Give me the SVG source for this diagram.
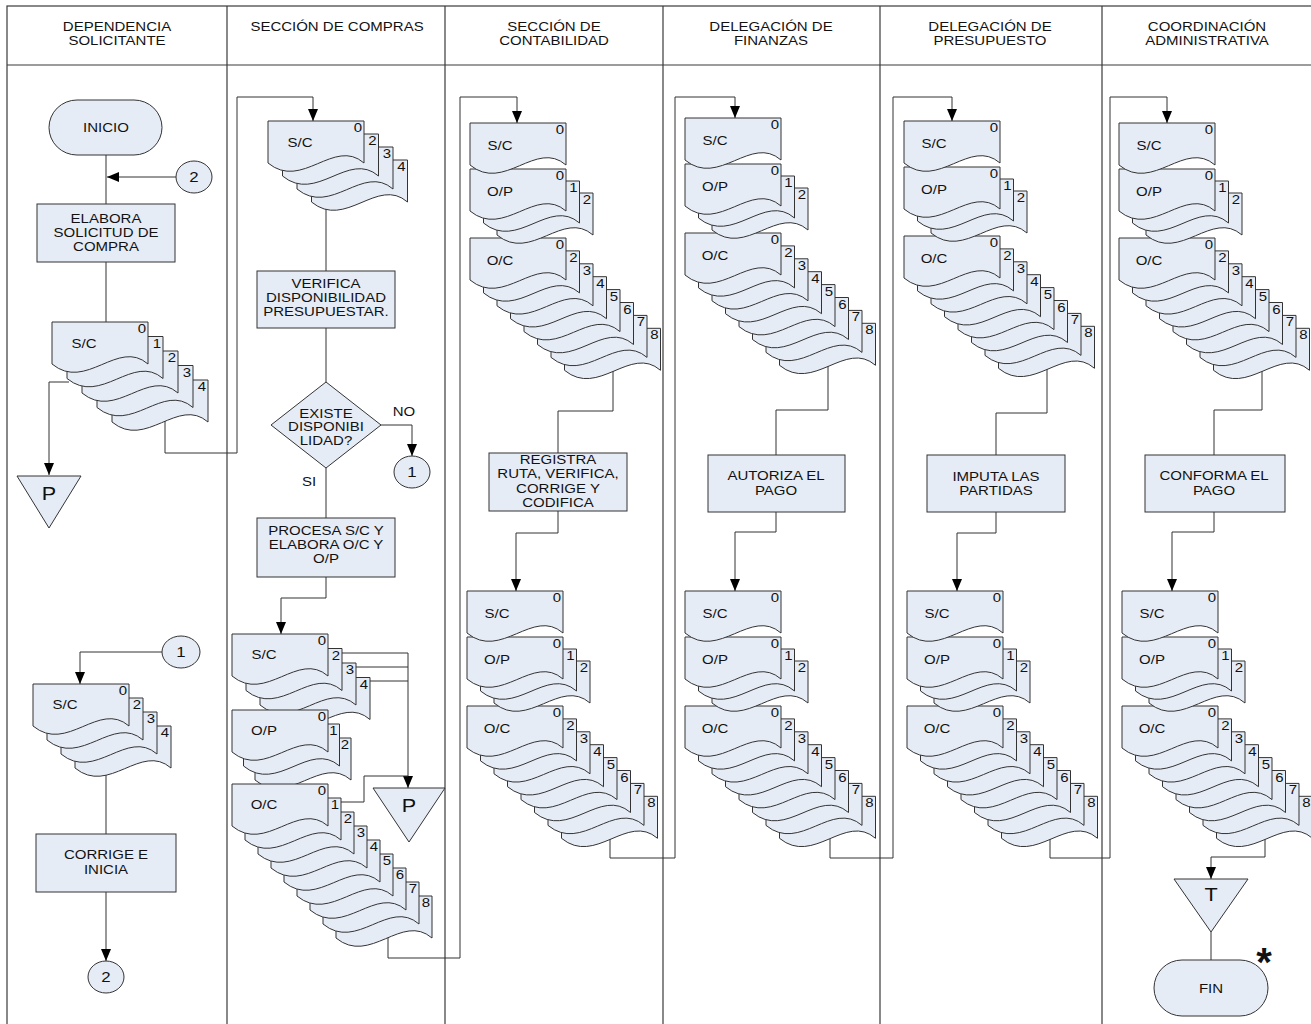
<svg xmlns="http://www.w3.org/2000/svg" width="1311" height="1024" viewBox="0 0 1311 1024">
<style>
.frame{fill:none;stroke:#3a3a3a;stroke-width:1.2}
.shape{fill:#e6ecf6;stroke:#333;stroke-width:1}
.ln{fill:none;stroke:#333;stroke-width:1}
.arr{marker-end:url(#ah)}
text{font-family:"Liberation Sans",Arial,sans-serif;font-size:12.5px;fill:#111}
.c{text-anchor:middle}
.n{text-anchor:end}
.big{font-size:18px}
.cn{font-size:14px;text-anchor:middle}
</style>
<defs>
<marker id="ah" viewBox="0 0 12 10" refX="12" refY="5" markerWidth="12" markerHeight="10" markerUnits="userSpaceOnUse" orient="auto">
<path d="M0,0L12,5L0,10Z" fill="#000"/>
</marker>
<path id="doc" class="shape" d="M0,0H96V42C66,16 34,70 0,42Z"/>
<!-- document set: S/C, O/P (3 copies), O/C (8 copies) -->
<g id="set">
<use href="#doc" x="94.5" y="205.3"/>
<use href="#doc" x="81" y="192.4"/>
<use href="#doc" x="67.5" y="179.5"/>
<use href="#doc" x="54" y="166.6"/>
<use href="#doc" x="40.5" y="153.7"/>
<use href="#doc" x="27" y="140.8"/>
<use href="#doc" x="13.5" y="127.9"/>
<use href="#doc" x="0" y="115"/>
<text class="n" transform="translate(94 126) scale(1.2 1)">0</text>
<text class="n" transform="translate(107.5 138.9) scale(1.2 1)">2</text>
<text class="n" transform="translate(121 151.8) scale(1.2 1)">3</text>
<text class="n" transform="translate(134.5 164.7) scale(1.2 1)">4</text>
<text class="n" transform="translate(148 177.6) scale(1.2 1)">5</text>
<text class="n" transform="translate(161.5 190.5) scale(1.2 1)">6</text>
<text class="n" transform="translate(175 203.4) scale(1.2 1)">7</text>
<text class="n" transform="translate(188.5 216.3) scale(1.2 1)">8</text>
<text class="c" transform="translate(30 142) scale(1.2 1)">O/C</text>
<use href="#doc" x="27" y="70"/>
<use href="#doc" x="13.5" y="58"/>
<use href="#doc" x="0" y="46"/>
<text class="n" transform="translate(94 57) scale(1.2 1)">0</text>
<text class="n" transform="translate(107.5 69) scale(1.2 1)">1</text>
<text class="n" transform="translate(121 81) scale(1.2 1)">2</text>
<text class="c" transform="translate(30 73) scale(1.2 1)">O/P</text>
<use href="#doc" x="0" y="0"/>
<text class="n" transform="translate(94 11) scale(1.2 1)">0</text>
<text class="c" transform="translate(30 27) scale(1.2 1)">S/C</text>
</g>
</defs>

<rect width="1311" height="1024" fill="#fff"/>

<g id="lanes">
<rect class="frame" x="7" y="6" width="1310" height="1024"/>
<line class="frame" x1="7" y1="65" x2="1311" y2="65"/>
<line class="frame" x1="227" y1="6" x2="227" y2="1024"/>
<line class="frame" x1="445" y1="6" x2="445" y2="1024"/>
<line class="frame" x1="663" y1="6" x2="663" y2="1024"/>
<line class="frame" x1="880" y1="6" x2="880" y2="1024"/>
<line class="frame" x1="1102" y1="6" x2="1102" y2="1024"/>
<text class="c" transform="translate(117 31) scale(1.2 1)"><tspan x="0">DEPENDENCIA</tspan><tspan x="0" dy="14">SOLICITANTE</tspan></text>
<text class="c" transform="translate(337 31) scale(1.2 1)">SECCIÓN DE COMPRAS</text>
<text class="c" transform="translate(554 31) scale(1.2 1)"><tspan x="0">SECCIÓN DE</tspan><tspan x="0" dy="14">CONTABILIDAD</tspan></text>
<text class="c" transform="translate(771 31) scale(1.2 1)"><tspan x="0">DELEGACIÓN DE</tspan><tspan x="0" dy="14">FINANZAS</tspan></text>
<text class="c" transform="translate(990 31) scale(1.2 1)"><tspan x="0">DELEGACIÓN DE</tspan><tspan x="0" dy="14">PRESUPUESTO</tspan></text>
<text class="c" transform="translate(1207 31) scale(1.2 1)"><tspan x="0">COORDINACIÓN</tspan><tspan x="0" dy="14">ADMINISTRATIVA</tspan></text>
</g>

<g id="connectors" class="ln">
<path d="M106,155V204"/>
<path class="arr" d="M176,177H107"/>
<path d="M106,262V322"/>
<path class="arr" d="M69,382H49V475"/>
<path class="arr" d="M165,421V453H237V97H313V121"/>
<path d="M326,205V271"/>
<path d="M326,328V382"/>
<path class="arr" d="M381,425H412V456"/>
<path d="M326,468V518"/>
<path class="arr" d="M326,577V598H281V634"/>
<path d="M342,653H408M356,667H408M370,681H408"/>
<path class="arr" d="M408,653V788"/>
<path d="M341,802H364V776H408"/>
<path class="arr" d="M388,937V958H460V97H517V123"/>
<path d="M613,371V411H558V453"/>
<path class="arr" d="M558,511V533H516V591"/>
<path class="arr" d="M610,839V858H675V97H735V118"/>
<path d="M828,366V410H776V455"/>
<path class="arr" d="M776,512V532H735V591"/>
<path class="arr" d="M830,839V858H893V97H952V121"/>
<path d="M1047,369V413H996V455"/>
<path class="arr" d="M996,512V533H957V591"/>
<path class="arr" d="M1050,839V858H1110V97H1167V123"/>
<path d="M1262,371V410H1214V455"/>
<path class="arr" d="M1214,512V532H1172V591"/>
<path class="arr" d="M1265,839V857H1211V879"/>
<path d="M1211,932V960"/>
<path class="arr" d="M162,652H80V684"/>
<path d="M106,773V834"/>
<path class="arr" d="M106,892V961"/>
</g>

<!-- Dependencia solicitante -->
<g id="inicio">
<rect class="shape" x="49" y="100" width="113" height="55" rx="28" ry="27.5"/>
<text class="c" transform="translate(106 132) scale(1.2 1)">INICIO</text>
</g>
<g id="con2-in">
<ellipse class="shape" cx="194" cy="177" rx="18" ry="16"/>
<text class="cn" transform="translate(194 182) scale(1.2 1)">2</text>
</g>
<g id="elabora">
<rect class="shape" x="37" y="204" width="138" height="58"/>
<text class="c" transform="translate(106 223) scale(1.2 1)"><tspan x="0">ELABORA</tspan><tspan x="0" dy="14">SOLICITUD DE</tspan><tspan x="0" dy="14">COMPRA</tspan></text>
</g>
<g id="sc-dep">
<use href="#doc" x="112" y="380"/>
<use href="#doc" x="97" y="365.5"/>
<use href="#doc" x="82" y="351"/>
<use href="#doc" x="67" y="336.5"/>
<use href="#doc" x="52" y="322"/>
<text class="n" transform="translate(146 333) scale(1.2 1)">0</text>
<text class="n" transform="translate(161 347.5) scale(1.2 1)">1</text>
<text class="n" transform="translate(176 362) scale(1.2 1)">2</text>
<text class="n" transform="translate(191 376.5) scale(1.2 1)">3</text>
<text class="n" transform="translate(206 391) scale(1.2 1)">4</text>
<text class="c" transform="translate(84 348) scale(1.2 1)">S/C</text>
</g>
<g id="p-dep">
<polygon class="shape" points="17,476 81,476 49,528"/>
<text class="big c" transform="translate(49 500) scale(1.2 1)">P</text>
</g>
<g id="con1-in">
<ellipse class="shape" cx="181" cy="652" rx="19" ry="16"/>
<text class="cn" transform="translate(181 657) scale(1.2 1)">1</text>
</g>
<g id="sc-dep-ret">
<use href="#doc" x="75" y="726"/>
<use href="#doc" x="61" y="712"/>
<use href="#doc" x="47" y="698"/>
<use href="#doc" x="33" y="684"/>
<text class="n" transform="translate(127 695) scale(1.2 1)">0</text>
<text class="n" transform="translate(141 709) scale(1.2 1)">2</text>
<text class="n" transform="translate(155 723) scale(1.2 1)">3</text>
<text class="n" transform="translate(169 737) scale(1.2 1)">4</text>
<text class="c" transform="translate(65 709) scale(1.2 1)">S/C</text>
</g>
<g id="corrige">
<rect class="shape" x="36" y="834" width="140" height="58"/>
<text class="c" transform="translate(106 859) scale(1.2 1)"><tspan x="0">CORRIGE E</tspan><tspan x="0" dy="15">INICIA</tspan></text>
</g>
<g id="con2-out">
<ellipse class="shape" cx="106" cy="977" rx="18" ry="16"/>
<text class="cn" transform="translate(106 982) scale(1.2 1)">2</text>
</g>

<!-- Sección de compras -->
<g id="sc-compras">
<use href="#doc" x="311.5" y="160"/>
<use href="#doc" x="297" y="147"/>
<use href="#doc" x="282.5" y="134"/>
<use href="#doc" x="268" y="121"/>
<text class="n" transform="translate(362 132) scale(1.2 1)">0</text>
<text class="n" transform="translate(376.5 145) scale(1.2 1)">2</text>
<text class="n" transform="translate(391 158) scale(1.2 1)">3</text>
<text class="n" transform="translate(405.5 171) scale(1.2 1)">4</text>
<text class="c" transform="translate(300 147) scale(1.2 1)">S/C</text>
</g>
<g id="verifica">
<rect class="shape" x="257" y="271" width="138" height="57"/>
<text class="c" transform="translate(326 288) scale(1.2 1)"><tspan x="0">VERIFICA</tspan><tspan x="0" dy="14">DISPONIBILIDAD</tspan><tspan x="0" dy="14">PRESUPUESTAR.</tspan></text>
</g>
<g id="existe">
<polygon class="shape" points="326,382 381,425 326,468 271,425"/>
<text class="c" transform="translate(326 418) scale(1.2 1)"><tspan x="0">EXISTE</tspan><tspan x="0" dy="13.5">DISPONIBI</tspan><tspan x="0" dy="13.5">LIDAD?</tspan></text>
<text class="c" transform="translate(404 416) scale(1.2 1)">NO</text>
<text class="c" transform="translate(309 486) scale(1.2 1)">SI</text>
</g>
<g id="con1-out">
<ellipse class="shape" cx="412" cy="472" rx="18" ry="16"/>
<text class="cn" transform="translate(412 477) scale(1.2 1)">1</text>
</g>
<g id="procesa">
<rect class="shape" x="257" y="518" width="138" height="59"/>
<text class="c" transform="translate(326 535) scale(1.2 1)"><tspan x="0">PROCESA S/C Y</tspan><tspan x="0" dy="14">ELABORA O/C Y</tspan><tspan x="0" dy="14">O/P</tspan></text>
</g>
<g id="sc-compras-out">
<use href="#doc" x="274" y="677.5"/>
<use href="#doc" x="260" y="663"/>
<use href="#doc" x="246" y="648.5"/>
<use href="#doc" x="232" y="634"/>
<text class="n" transform="translate(326 645) scale(1.2 1)">0</text>
<text class="n" transform="translate(340 659.5) scale(1.2 1)">2</text>
<text class="n" transform="translate(354 674) scale(1.2 1)">3</text>
<text class="n" transform="translate(368 688.5) scale(1.2 1)">4</text>
<text class="c" transform="translate(264 659) scale(1.2 1)">S/C</text>
</g>
<g id="op-compras">
<use href="#doc" x="255" y="738"/>
<use href="#doc" x="243.5" y="724"/>
<use href="#doc" x="232" y="710"/>
<text class="n" transform="translate(326 721) scale(1.2 1)">0</text>
<text class="n" transform="translate(337.5 735) scale(1.2 1)">1</text>
<text class="n" transform="translate(349 749) scale(1.2 1)">2</text>
<text class="c" transform="translate(264 735) scale(1.2 1)">O/P</text>
</g>
<g id="oc-compras">
<use href="#doc" x="336" y="896"/>
<use href="#doc" x="323" y="882"/>
<use href="#doc" x="310" y="868"/>
<use href="#doc" x="297" y="854"/>
<use href="#doc" x="284" y="840"/>
<use href="#doc" x="271" y="826"/>
<use href="#doc" x="258" y="812"/>
<use href="#doc" x="245" y="798"/>
<use href="#doc" x="232" y="784"/>
<text class="n" transform="translate(326 795) scale(1.2 1)">0</text>
<text class="n" transform="translate(339 809) scale(1.2 1)">1</text>
<text class="n" transform="translate(352 823) scale(1.2 1)">2</text>
<text class="n" transform="translate(365 837) scale(1.2 1)">3</text>
<text class="n" transform="translate(378 851) scale(1.2 1)">4</text>
<text class="n" transform="translate(391 865) scale(1.2 1)">5</text>
<text class="n" transform="translate(404 879) scale(1.2 1)">6</text>
<text class="n" transform="translate(417 893) scale(1.2 1)">7</text>
<text class="n" transform="translate(430 907) scale(1.2 1)">8</text>
<text class="c" transform="translate(264 809) scale(1.2 1)">O/C</text>
</g>
<g id="p-compras">
<polygon class="shape" points="373,788 445,788 409,842"/>
<text class="big c" transform="translate(409 812) scale(1.2 1)">P</text>
</g>

<!-- Sección de contabilidad -->
<g id="docs-cont-in"><use href="#set" x="470" y="123"/></g>
<g id="registra">
<rect class="shape" x="489" y="453" width="138" height="58"/>
<text class="c" transform="translate(558 464) scale(1.2 1)"><tspan x="0">REGISTRA</tspan><tspan x="0" dy="14.5">RUTA, VERIFICA,</tspan><tspan x="0" dy="14.5">CORRIGE Y</tspan><tspan x="0" dy="14.5">CODIFICA</tspan></text>
</g>
<g id="docs-cont-out"><use href="#set" x="467" y="591"/></g>

<!-- Delegación de finanzas -->
<g id="docs-fin-in"><use href="#set" x="685" y="118"/></g>
<g id="autoriza">
<rect class="shape" x="708" y="455" width="137" height="57"/>
<text class="c" transform="translate(776 480) scale(1.2 1)"><tspan x="0">AUTORIZA EL</tspan><tspan x="0" dy="15">PAGO</tspan></text>
</g>
<g id="docs-fin-out"><use href="#set" x="685" y="591"/></g>

<!-- Delegación de presupuesto -->
<g id="docs-pres-in"><use href="#set" x="904" y="121"/></g>
<g id="imputa">
<rect class="shape" x="927" y="455" width="138" height="57"/>
<text class="c" transform="translate(996 481) scale(1.2 1)"><tspan x="0">IMPUTA LAS</tspan><tspan x="0" dy="14">PARTIDAS</tspan></text>
</g>
<g id="docs-pres-out"><use href="#set" x="907" y="591"/></g>

<!-- Coordinación administrativa -->
<g id="docs-coord-in"><use href="#set" x="1119" y="123"/></g>
<g id="conforma">
<rect class="shape" x="1145" y="455" width="140" height="57"/>
<text class="c" transform="translate(1214 480) scale(1.2 1)"><tspan x="0">CONFORMA EL</tspan><tspan x="0" dy="15">PAGO</tspan></text>
</g>
<g id="docs-coord-out"><use href="#set" x="1122" y="591"/></g>
<g id="t-archivo">
<polygon class="shape" points="1174,879 1248,879 1211,932"/>
<text class="big c" transform="translate(1211 901) scale(1.2 1)">T</text>
</g>
<g id="fin">
<rect class="shape" x="1154" y="960" width="114" height="56" rx="28" ry="28"/>
<text class="c" transform="translate(1211 993) scale(1.2 1)">FIN</text>
<text class="c" style="font-size:40px;font-weight:bold" transform="translate(1264 976)">*</text>
</g>
</svg>
